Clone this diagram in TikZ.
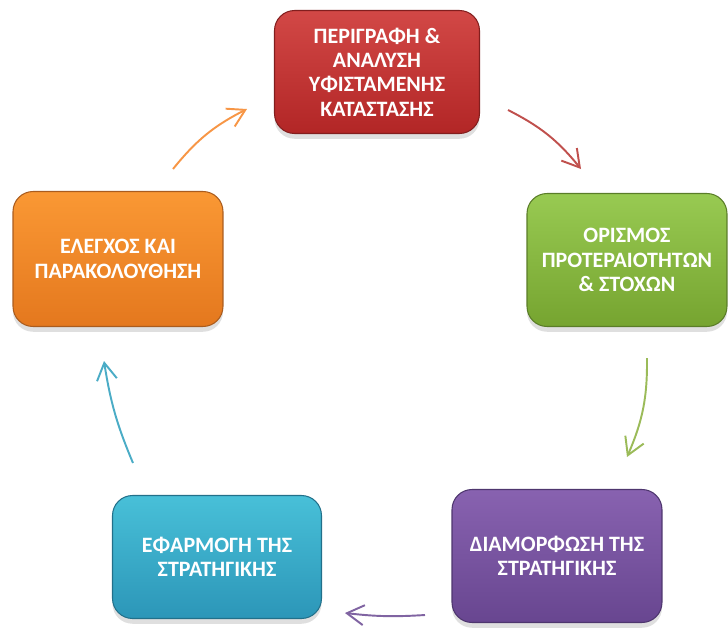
\documentclass[tikz,border=0pt]{standalone}
\usepackage{fontspec}
\setmainfont{Carlito}
\usetikzlibrary{arrows.meta,shadows}

% Office-like colours
\definecolor{redTop}{RGB}{210,72,70}
\definecolor{redBot}{RGB}{178,38,38}
\definecolor{redEdge}{RGB}{130,30,30}
\definecolor{redLine}{RGB}{192,80,77}
\definecolor{greenTop}{RGB}{152,202,82}
\definecolor{greenBot}{RGB}{118,164,48}
\definecolor{greenEdge}{RGB}{90,125,40}
\definecolor{greenLine}{RGB}{155,187,89}
\definecolor{purpleTop}{RGB}{136,98,176}
\definecolor{purpleBot}{RGB}{104,70,144}
\definecolor{purpleEdge}{RGB}{78,54,110}
\definecolor{purpleLine}{RGB}{128,100,162}
\definecolor{blueTop}{RGB}{72,192,216}
\definecolor{blueBot}{RGB}{44,150,184}
\definecolor{blueEdge}{RGB}{34,112,138}
\definecolor{blueLine}{RGB}{75,172,198}
\definecolor{orangeTop}{RGB}{250,152,52}
\definecolor{orangeBot}{RGB}{228,120,30}
\definecolor{orangeEdge}{RGB}{170,92,30}
\definecolor{orangeLine}{RGB}{247,150,70}

\tikzset{
  stage/.style={rectangle, rounded corners=0.4cm, draw=#1Edge, line width=0.6pt,
    top color=#1Top, bottom color=#1Bot, text=white, align=center,
    font=\fontsize{12.5}{13.9}\selectfont\bfseries,
    drop shadow={opacity=0.25, shadow xshift=0pt, shadow yshift=-3pt}},
  cycle/.style={-{Straight Barb[length=0.34cm,width=0.4cm]}, line width=1.1pt, #1Line}
}

\begin{document}
\begin{tikzpicture}[x=0.02cm,y=-0.02cm]
\useasboundingbox (0,0) rectangle (728,630);

% Stages
\node[stage=red, minimum width=4.1cm, minimum height=2.46cm] (analysis) at (377,72)
  {ΠΕΡΙΓΡΑΦΗ \&\\ΑΝΑΛΥΣΗ\\ΥΦΙΣΤΑΜΕΝΗΣ\\ΚΑΤΑΣΤΑΣΗΣ};
\node[stage=green, minimum width=4.0cm, minimum height=2.66cm] (goals) at (627,260)
  {ΟΡΙΣΜΟΣ\\ΠΡΟΤΕΡΑΙΟΤΗΤΩΝ\\\& ΣΤΟΧΩΝ};
\node[stage=purple, minimum width=4.2cm, minimum height=2.66cm] (design) at (557,556)
  {ΔΙΑΜΟΡΦΩΣΗ ΤΗΣ\\ΣΤΡΑΤΗΓΙΚΗΣ};
\node[stage=blue, minimum width=4.18cm, minimum height=2.46cm] (apply) at (217,557)
  {ΕΦΑΡΜΟΓΗ ΤΗΣ\\ΣΤΡΑΤΗΓΙΚΗΣ};
\node[stage=orange, minimum width=4.2cm, minimum height=2.7cm] (monitor) at (118,259)
  {ΕΛΕΓΧΟΣ ΚΑΙ\\ΠΑΡΑΚΟΛΟΥΘΗΣΗ};

% Arrow ends
\coordinate (r1) at (508,110); \coordinate (r2) at (581,169);
\coordinate (g1) at (647,358); \coordinate (g2) at (627,457);
\coordinate (p1) at (425,615); \coordinate (p2) at (345,613);
\coordinate (b1) at (133,463); \coordinate (b2) at (104,361);
\coordinate (o1) at (173,169); \coordinate (o2) at (247,109);

% Cycle
\draw[cycle=red] (r1) to[bend left=12] (r2);
\draw[cycle=green] (g1) to[bend left=12] (g2);
\draw[cycle=purple] (p1) to[bend left=5] (p2);
\draw[cycle=blue] (b1) to[bend left=7] (b2);
\draw[cycle=orange] (o1) to[bend left=12] (o2);
\end{tikzpicture}
\end{document}
